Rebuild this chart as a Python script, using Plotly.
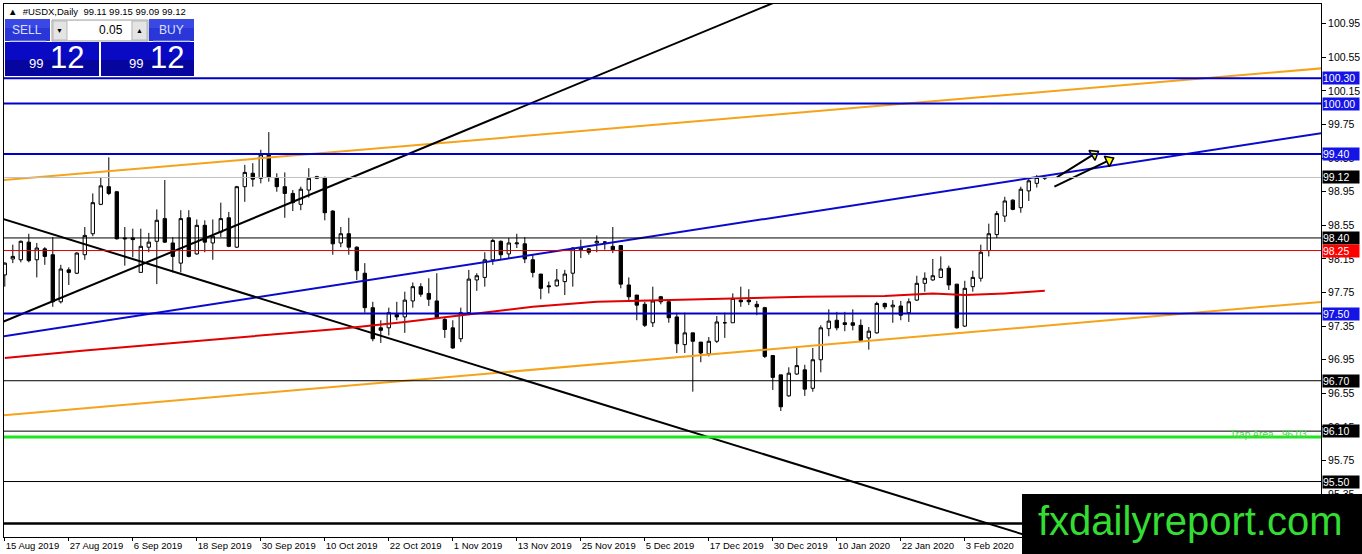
import math
import pandas as pd
import plotly.graph_objects as go

# ---------------- data ----------------
opens = [97.96, 98.15, 98.14, 98.35, 98.14, 98.27, 98.20, 97.64, 98.02, 97.98,
         98.20, 98.45, 98.80, 99.01, 98.95, 98.40, 98.40, 97.99, 98.29, 98.36,
         98.63, 98.34, 98.10, 98.64, 98.21, 98.55, 98.34, 98.47, 98.64, 98.29,
         99.01, 99.17, 99.11, 99.39, 99.12, 99.01, 98.93, 98.80, 98.97, 99.11,
         99.12, 98.72, 98.34, 98.45, 98.29, 97.98, 97.57, 97.33, 97.33, 97.49,
         97.46, 97.65, 97.82, 97.74, 97.65, 97.43, 97.33, 97.20, 97.51, 97.90,
         97.93, 98.14, 98.36, 98.21, 98.33, 98.33, 98.14, 97.97, 97.83, 97.83,
         97.88, 97.98, 98.26, 98.27, 98.34, 98.35, 98.30, 98.31, 97.84, 97.72,
         97.61, 97.39, 97.70, 97.64, 97.46, 97.13, 97.27, 97.16, 97.02, 97.17,
         97.39, 97.39, 97.66, 97.66, 97.61, 97.57, 97.00, 96.77, 96.52, 96.78,
         96.83, 96.61, 96.95, 97.32, 97.42, 97.39, 97.39, 97.36, 97.21, 97.27,
         97.62, 97.58, 97.59, 97.51, 97.66, 97.86, 97.90, 97.93, 98.04, 97.85,
         97.35, 97.82, 97.92, 98.25, 98.44, 98.66, 98.85, 98.76, 98.96, 99.05,
         99.11]
highs = [98.11, 98.32, 98.37, 98.45, 98.34, 98.29, 98.41, 98.08, 98.05, 98.23,
         98.53, 98.93, 99.12, 99.36, 98.96, 98.53, 98.51, 98.51, 98.46, 98.74,
         99.09, 98.41, 98.73, 98.73, 98.62, 98.61, 98.62, 98.82, 98.71, 99.02,
         99.27, 99.29, 99.45, 99.66, 99.17, 99.18, 98.97, 99.01, 99.23, 99.14,
         99.13, 98.73, 98.53, 98.64, 98.30, 98.10, 97.64, 97.42, 97.57, 97.64,
         97.76, 97.87, 97.86, 97.92, 97.98, 97.46, 97.42, 97.57, 98.02, 97.98,
         98.23, 98.39, 98.37, 98.40, 98.45, 98.41, 98.20, 97.97, 97.88, 98.03,
         98.02, 98.29, 98.38, 98.28, 98.43, 98.36, 98.53, 98.31, 97.93, 97.72,
         97.64, 97.82, 97.71, 97.65, 97.51, 97.51, 97.27, 97.16, 97.22, 97.47,
         97.51, 97.74, 97.82, 97.79, 97.65, 97.58, 97.00, 96.77, 96.86, 97.10,
         96.89, 97.09, 97.36, 97.55, 97.52, 97.52, 97.55, 97.43, 97.34, 97.64,
         97.63, 97.66, 97.65, 97.68, 97.95, 97.99, 98.15, 98.18, 98.07, 97.85,
         97.89, 98.01, 98.32, 98.57, 98.72, 98.89, 98.86, 99.01, 99.11, 99.15,
         99.15]
lows = [97.82, 98.10, 98.11, 98.11, 97.93, 98.08, 97.58, 97.62, 97.84, 97.97,
        98.14, 98.42, 98.79, 98.91, 98.38, 98.07, 98.17, 97.99, 98.23, 97.85,
        98.34, 97.99, 97.99, 98.17, 98.20, 98.23, 98.14, 98.41, 98.29, 98.28,
        98.83, 99.01, 99.05, 99.07, 98.95, 98.64, 98.72, 98.73, 98.88, 99.10,
        98.61, 98.20, 98.29, 98.20, 97.90, 97.51, 97.17, 97.15, 97.24, 97.42,
        97.27, 97.57, 97.70, 97.59, 97.44, 97.21, 97.08, 97.16, 97.48, 97.77,
        97.82, 98.08, 98.14, 98.16, 98.28, 98.10, 97.93, 97.67, 97.74, 97.82,
        97.72, 97.82, 98.16, 98.20, 98.23, 98.26, 98.22, 97.80, 97.64, 97.42,
        97.34, 97.34, 97.61, 97.39, 97.03, 97.03, 96.57, 96.92, 96.99, 97.15,
        97.21, 97.39, 97.58, 97.60, 97.48, 96.97, 96.59, 96.34, 96.51, 96.77,
        96.52, 96.57, 96.80, 97.23, 97.30, 97.29, 97.30, 97.16, 97.07, 97.26,
        97.55, 97.39, 97.42, 97.40, 97.65, 97.76, 97.89, 97.93, 97.78, 97.32,
        97.34, 97.76, 97.88, 98.18, 98.40, 98.59, 98.73, 98.70, 98.84, 99.00,
        99.09]
closes = [98.10, 98.18, 98.36, 98.13, 98.28, 98.18, 97.64, 98.03, 97.99, 98.22,
          98.43, 98.82, 99.02, 98.93, 98.39, 98.39, 98.38, 98.30, 98.35, 98.61,
          98.35, 98.18, 98.63, 98.18, 98.55, 98.35, 98.42, 98.63, 98.30, 99.01,
          99.18, 99.10, 99.39, 99.12, 99.01, 98.93, 98.82, 98.98, 99.11, 99.13,
          98.70, 98.33, 98.45, 98.29, 98.01, 97.57, 97.20, 97.30, 97.51, 97.46,
          97.66, 97.82, 97.73, 97.67, 97.45, 97.31, 97.09, 97.51, 97.91, 97.95,
          98.14, 98.37, 98.20, 98.34, 98.34, 98.15, 97.99, 97.80, 97.82, 97.90,
          97.97, 98.28, 98.28, 98.23, 98.36, 98.35, 98.26, 97.85, 97.70, 97.60,
          97.36, 97.65, 97.64, 97.45, 97.14, 97.27, 97.17, 97.03, 97.17, 97.40,
          97.39, 97.68, 97.64, 97.64, 97.58, 96.99, 96.74, 96.39, 96.79, 96.88,
          96.60, 96.95, 97.33, 97.41, 97.33, 97.37, 97.36, 97.18, 97.29, 97.62,
          97.58, 97.60, 97.48, 97.64, 97.86, 97.92, 97.95, 98.03, 97.84, 97.33,
          97.80, 97.93, 98.23, 98.45, 98.69, 98.84, 98.74, 98.98, 99.08, 99.12,
          99.12]

# trading days shown (weekdays, market closed 25 Dec and 1 Jan)
holidays = ["2019-12-25", "2020-01-01"]
all_days = pd.bdate_range("2019-08-15", "2020-02-28")
dates = [d for d in all_days if d.strftime("%Y-%m-%d") not in holidays][:len(opens)]
date_labels = [f"{d.day} {d.strftime('%b %Y')}" for d in dates]

tick_labels = ["15 Aug 2019", "27 Aug 2019", "6 Sep 2019", "18 Sep 2019", "30 Sep 2019",
               "10 Oct 2019", "22 Oct 2019", "1 Nov 2019", "13 Nov 2019", "25 Nov 2019",
               "5 Dec 2019", "17 Dec 2019", "30 Dec 2019", "10 Jan 2020", "22 Jan 2020",
               "3 Feb 2020"]
price_ticks = [95.35, 95.75, 96.15, 96.55, 96.95, 97.35, 97.75, 98.15, 98.55,
               98.95, 99.35, 99.75, 100.15, 100.55, 100.95]

# moving average (red), sampled at bar indices
ma_bar = [0, 10, 20, 30, 42, 50, 58, 66, 74, 82, 90, 100, 110, 116, 120, 125, 130]
ma_val = [96.97, 97.06, 97.14, 97.22, 97.32, 97.40, 97.49, 97.58, 97.64, 97.66,
          97.68, 97.70, 97.71, 97.74, 97.72, 97.74, 97.77]

# horizontal levels
blue_levels = [100.30, 100.00, 99.40, 97.50]
black_levels = [98.40, 96.70, 96.10, 95.50]
red_level = 98.25
bid_level = 99.12
trap_level = 96.03
base_level = 95.00

# trend lines: (bar_a, price_a, bar_b, price_b)
orange_lines = [(0, 99.09, 164.7, 100.42), (0, 96.29, 164.7, 97.64)]
blue_trend = (0, 97.23, 164.7, 99.65)
black_lines = [(0, 97.41, 42.1, 99.07), (0, 98.62, 124.6, 94.95)]

# arrows: start (bar, price) -> tip (bar, price)
arrows = [(131.5, 99.12, 136.7, 99.43), (131.2, 99.01, 138.6, 99.35)]

header_text = "▲  #USDX,Daily  99.11 99.15 99.09 99.12"

# ---------------- layout geometry ----------------
W, H = 1362, 554
ML, MR, MT, MB = 4, 41, 4, 17
PW, PH = W - ML - MR, H - MT - MB
BAR_PX = 8.0
X0 = -0.1
X1 = X0 + PW / BAR_PX
Y1 = 101.185
Y0 = Y1 - PH / 84.0
PX_PER_P = PH / (Y1 - Y0)


def xp(px):
    return (px - ML) / PW


def yp(py):
    return (H - MB - py) / PH


x = list(range(len(opens)))
tickvals = [date_labels.index(t) for t in tick_labels]

fig = go.Figure()
fig.add_trace(go.Candlestick(
    x=x, open=opens, high=highs, low=lows, close=closes,
    increasing=dict(line=dict(color="black", width=1), fillcolor="white"),
    decreasing=dict(line=dict(color="black", width=1), fillcolor="black"),
    whiskerwidth=0, showlegend=False, hoverinfo="skip"))


def extend(line):
    a, pa, b, pb = line
    s = (pb - pa) / (b - a)
    return [X0 - 1, X1 + 1], [pa + s * (X0 - 1 - a), pa + s * (X1 + 1 - a)]


for ln in orange_lines:
    xs, ys = extend(ln)
    fig.add_trace(go.Scatter(x=xs, y=ys, mode="lines", line=dict(color="#F5A31A", width=2),
                             showlegend=False, hoverinfo="skip"))
xs, ys = extend(blue_trend)
fig.add_trace(go.Scatter(x=xs, y=ys, mode="lines", line=dict(color="#0A0ACD", width=2),
                         showlegend=False, hoverinfo="skip"))
for ln in black_lines:
    xs, ys = extend(ln)
    fig.add_trace(go.Scatter(x=xs, y=ys, mode="lines", line=dict(color="black", width=2),
                             showlegend=False, hoverinfo="skip"))

fig.add_trace(go.Scatter(x=ma_bar, y=ma_val, mode="lines", line=dict(color="#E00000", width=2),
                         showlegend=False, hoverinfo="skip"))

# horizontal lines
for lv in blue_levels:
    fig.add_hline(y=lv, line=dict(color="#0000CD", width=2))
for lv in black_levels:
    fig.add_hline(y=lv, line=dict(color="black", width=1))
fig.add_hline(y=red_level, line=dict(color="#E00000", width=1))
fig.add_hline(y=bid_level, line=dict(color="#C0C0C0", width=1))
fig.add_hline(y=trap_level, line=dict(color="#1EE61E", width=3))
fig.add_hline(y=base_level, line=dict(color="black", width=2.5))

# arrows
for sx, sp, tx, tp in arrows:
    fig.add_trace(go.Scatter(x=[sx, tx], y=[sp, tp], mode="lines",
                             line=dict(color="black", width=2),
                             showlegend=False, hoverinfo="skip"))
    dx = (tx - sx) * BAR_PX
    dy = (tp - sp) * PX_PER_P
    ln = math.hypot(dx, dy)
    ang = math.degrees(math.atan2(dx, dy))
    back = 5
    cx = tx - dx / ln * back / BAR_PX
    cy = tp - dy / ln * back / PX_PER_P
    fig.add_trace(go.Scatter(x=[cx], y=[cy], mode="markers",
                             marker=dict(symbol="triangle-up", size=10, angle=ang,
                                         color="#FFFF00", line=dict(color="black", width=1.5)),
                             showlegend=False, hoverinfo="skip"))

# price label boxes on the right scale
label_specs = [(100.30, "#1414E6"), (100.00, "#1414E6"), (99.40, "#1414E6"),
               (bid_level, "black"), (98.40, "black"), (red_level, "#FF0000"),
               (97.50, "#1414E6"), (96.70, "black"), (96.10, "black"), (95.50, "black")]
for lv, col in label_specs:
    fig.add_annotation(xref="paper", yref="y", x=xp(1322), y=lv, xanchor="left",
                       yanchor="middle", text=f"{lv:.2f}", showarrow=False,
                       bgcolor=col, font=dict(color="white", size=10.5, family="Liberation Sans"),
                       borderpad=0, width=36, align="left")

fig.add_annotation(xref="paper", yref="y", x=xp(1309), y=trap_level, xanchor="right",
                   yanchor="bottom", yshift=-5, text="Trap Area   96.03", showarrow=False,
                   font=dict(color="#4CD44C", size=10, family="Liberation Sans"))

# header text
fig.add_annotation(xref="paper", yref="paper", x=xp(6), y=yp(11), xanchor="left",
                   yanchor="middle", text=header_text, showarrow=False,
                   font=dict(color="black", size=9.5, family="Liberation Sans"))

# trade panel
shapes = []


def rect(x0, y0, x1, y1, fill, line_color=None, lw=0):
    shapes.append(dict(type="rect", xref="paper", yref="paper", x0=xp(x0), x1=xp(x1),
                       y0=yp(y1), y1=yp(y0), fillcolor=fill, layer="above",
                       line=dict(color=line_color or fill, width=lw)))


rect(5, 19, 50, 41, "#2A36D8")
rect(5, 19, 50, 28, "#3A48E4")
rect(149, 19, 194, 41, "#2A36D8")
rect(149, 19, 194, 28, "#3A48E4")
rect(52, 20, 148, 41, "#F0F0F0", "#A0A0A0", 1)
rect(67, 21, 131, 40, "white")
rect(53, 21, 67, 40, "#E4E4E4", "#B8B8B8", 1)
rect(132, 21, 147, 40, "#E4E4E4", "#B8B8B8", 1)
rect(5, 42, 99, 76, "#0A0AC4")
rect(5, 60, 99, 76, "#06069E")
rect(101, 42, 194, 76, "#0A0AC4")
rect(101, 60, 194, 76, "#06069E")
shapes.append(dict(type="line", xref="paper", yref="paper", x0=xp(10), x1=xp(46),
                   y0=yp(41), y1=yp(41), line=dict(color="#8C9CF0", width=1), layer="above"))
shapes.append(dict(type="line", xref="paper", yref="paper", x0=xp(153), x1=xp(190),
                   y0=yp(41), y1=yp(41), line=dict(color="#8C9CF0", width=1), layer="above"))
# watermark box
rect(1022, 494, 1362, 554, "black")

panel_texts = [
    ("SELL", 27, 30, 12, "#D8E0FF", "center"),
    ("BUY", 171, 30, 12, "#D8E0FF", "center"),
    ("0.05", 125, 30, 12, "black", "right"),
    ("▼", 60, 30, 7, "black", "center"),
    ("▲", 139.5, 30, 7, "black", "center"),
    ("99", 36, 63, 13, "white", "center"),
    ("12", 67, 58, 31, "white", "center"),
    ("99", 136, 63, 13, "white", "center"),
    ("12", 167, 58, 31, "white", "center"),
]
for txt, px, py, sz, col, anc in panel_texts:
    fig.add_annotation(xref="paper", yref="paper", x=xp(px), y=yp(py), xanchor=anc,
                       yanchor="middle", text=txt, showarrow=False,
                       font=dict(color=col, size=sz, family="Liberation Sans"))

fig.add_annotation(xref="paper", yref="paper", x=xp(1190), y=yp(521), xanchor="center",
                   yanchor="middle", text="fxdailyreport.com", showarrow=False,
                   font=dict(color="#33DD33", size=40, family="Liberation Sans"))

fig.update_layout(
    width=W, height=H,
    margin=dict(l=ML, r=MR, t=MT, b=MB, autoexpand=False),
    paper_bgcolor="white", plot_bgcolor="white",
    shapes=list(fig.layout.shapes) + shapes,
    boxgap=0.4,
    xaxis=dict(range=[X0, X1], rangeslider=dict(visible=False), tickvals=tickvals,
               ticktext=tick_labels, ticks="outside", ticklen=3, tickcolor="black",
               ticklabelposition="outside right", showgrid=False, zeroline=False,
               showline=True, linecolor="black", linewidth=1, mirror=True,
               automargin=False,
               tickfont=dict(size=9.5, family="Liberation Sans", color="black")),
    yaxis=dict(range=[Y0, Y1], side="right", tickvals=price_ticks,
               ticktext=[f"{v:.2f}" for v in price_ticks], ticks="outside", ticklen=4,
               tickcolor="black", showgrid=False, zeroline=False, showline=True,
               linecolor="black", linewidth=1, mirror=True, automargin=False,
               tickfont=dict(size=10.5, family="Liberation Sans", color="black")),
    showlegend=False,
)

fig.write_html("out.html", config={"displayModeBar": False},
               post_script="document.body.style.margin='0px';document.body.style.overflow='hidden';")
